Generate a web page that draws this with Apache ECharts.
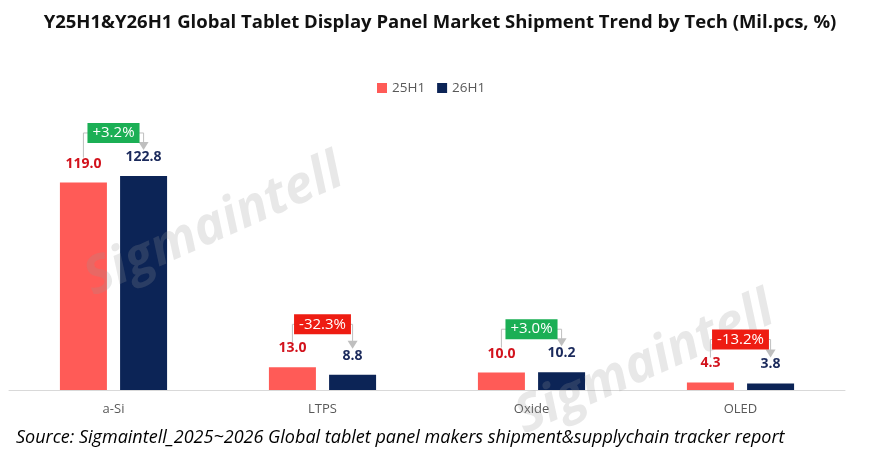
<!DOCTYPE html>
<html>
<head>
<meta charset="utf-8">
<style>
  html, body { margin: 0; padding: 0; background: #fff; }
  #main { width: 880px; height: 460px; }
</style>
<script src="https://cdn.jsdelivr.net/npm/echarts@6/dist/echarts.min.js"></script>
</head>
<body>
<div id="main"></div>
<script>
// 数据
var categories = ['a-Si', 'LTPS', 'Oxide', 'OLED'];
var seriesNames = ['25H1', '26H1'];
var values25 = [119.0, 13.0, 10.0, 4.3];
var values26 = [122.8, 8.8, 10.2, 3.8];
var changes = ['+3.2%', '-32.3%', '+3.0%', '-13.2%'];

var FONT = '"Open Sans", "DejaVu Sans", sans-serif';
var colBar25 = '#FF5B57', colBar26 = '#0C2456';
var colLab25 = '#D2121C', colLab26 = '#1B2A5C';

var chart = echarts.init(document.getElementById('main'));

var option = {
    animation: false,
    backgroundColor: '#fff',
    title: {
        text: 'Y25H1&Y26H1 Global Tablet Display Panel Market Shipment Trend by Tech (Mil.pcs, %)',
        left: 'center',
        top: 8,
        textStyle: { fontFamily: FONT, fontSize: 18.5, fontWeight: 'bold', color: '#111' }
    },
    legend: {
        data: seriesNames,
        left: 372,
        top: 76,
        icon: 'rect',
        itemWidth: 10,
        itemHeight: 10,
        itemGap: 12,
        textStyle: { fontFamily: FONT, fontSize: 13.5, color: '#595959' }
    },
    grid: { left: 9, right: 35, top: 146, bottom: 70 },
    xAxis: {
        type: 'category',
        data: categories,
        axisLine: { lineStyle: { color: '#D9D9D9' } },
        axisTick: { show: false },
        axisLabel: { fontFamily: FONT, fontSize: 13, color: '#595959', margin: 13 }
    },
    yAxis: { type: 'value', min: 0, max: 140, show: false, splitLine: { show: false } },
    series: [
        {
            name: seriesNames[0], type: 'bar', data: values25,
            barWidth: 47, barGap: '28%',
            itemStyle: { color: colBar25 },
            label: {
                show: true, position: 'top', distance: 12,
                formatter: function (p) { return p.value.toFixed(1); },
                fontFamily: FONT, fontSize: 14, fontWeight: 'bold', color: colLab25
            }
        },
        {
            name: seriesNames[1], type: 'bar', data: values26,
            barWidth: 47, barGap: '28%',
            itemStyle: { color: colBar26 },
            label: {
                show: true, position: 'top', distance: 12,
                formatter: function (p) { return p.value.toFixed(1); },
                fontFamily: FONT, fontSize: 14, fontWeight: 'bold', color: colLab26
            }
        }
    ]
};
chart.setOption(option);

// 取柱子的布局位置
function barInfo(si, i) {
    var l = chart.getModel().getSeriesByIndex(si).getData().getItemLayout(i);
    return { cx: l.x + l.width / 2, top: Math.min(l.y, l.y + l.height) };
}

var graphics = [];
// 水印
graphics.push({
    type: 'text', x: 214, y: 226, rotation: 0.42, z: 50, silent: true,
    style: { text: 'Sigmaintell', fill: 'rgba(150,150,150,0.22)', font: 'italic bold 52px ' + FONT,
             align: 'center', verticalAlign: 'middle' }
});
graphics.push({
    type: 'text', x: 645, y: 364, rotation: 0.42, z: 50, silent: true,
    style: { text: 'Sigmaintell', fill: 'rgba(150,150,150,0.22)', font: 'italic bold 52px ' + FONT,
             align: 'center', verticalAlign: 'middle' }
});

// 变化率标注
for (var i = 0; i < categories.length; i++) {
    var a = barInfo(0, i), b = barInfo(1, i);
    var boxBottom = Math.min(a.top, b.top) - 31;
    var boxMid = boxBottom - 12;
    var tip = b.top - 26;
    var up = changes[i].charAt(0) === '+';
    graphics.push({
        type: 'polyline', z: 60, silent: true,
        shape: { points: [[a.cx, a.top - 25], [a.cx, boxMid], [b.cx, boxMid], [b.cx, tip - 6]] },
        style: { stroke: '#BFBFBF', lineWidth: 1, fill: null }
    });
    graphics.push({
        type: 'polygon', z: 60, silent: true,
        shape: { points: [[b.cx - 5, tip - 8], [b.cx + 5, tip - 8], [b.cx, tip]] },
        style: { fill: '#BFBFBF' }
    });
    graphics.push({
        type: 'text', z: 70, silent: true,
        x: (a.cx + b.cx) / 2, y: boxMid,
        style: {
            text: changes[i], fill: '#fff', font: '15px ' + FONT,
            align: 'center', verticalAlign: 'middle',
            backgroundColor: up ? '#1BAF55' : '#EE1C12',
            padding: [3, 5, 2, 5]
        }
    });
}

// 数据来源
graphics.push({
    type: 'text', x: 16, y: 438, z: 80, silent: true,
    style: {
        text: 'Source: Sigmaintell_2025~2026 Global tablet panel makers shipment&supplychain tracker report',
        fill: '#000', font: 'italic 18px ' + FONT, verticalAlign: 'middle'
    }
});

chart.setOption({ graphic: { elements: graphics } });
</script>
</body>
</html>
